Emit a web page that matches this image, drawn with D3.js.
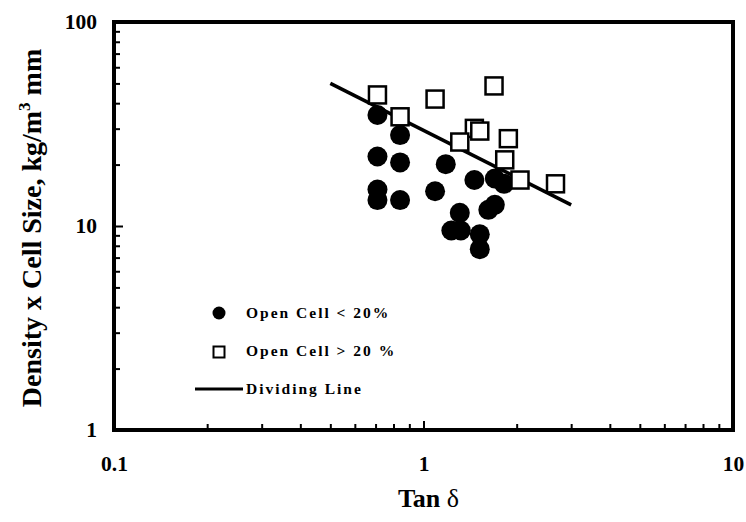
<!DOCTYPE html>
<html>
<head>
<meta charset="utf-8">
<script src="https://cdn.jsdelivr.net/npm/d3@7"></script>
<style>
  body { margin: 0; background: #fff; }
  svg { display: block; font-family: "Liberation Serif", "Times New Roman", serif; }
</style>
</head>
<body>
<svg id="graph" width="746" height="522"></svg>
<script>
// Open cell < 20% (filled circles)
const closedX = [0.71, 0.84, 0.71, 0.84, 1.18, 0.71, 0.71, 0.84, 1.09, 1.46, 1.70, 1.82, 1.31, 1.23, 1.32, 1.52, 1.52, 1.62, 1.70];
const closedY = [35.0, 27.9, 21.9, 20.5, 20.1, 15.1, 13.4, 13.4, 14.8, 16.8, 17.1, 16.1, 11.6, 9.5, 9.5, 9.1, 7.7, 12.0, 12.7];
// Open cell > 20% (open squares)
const openX = [0.71, 0.84, 1.09, 1.69, 1.46, 1.52, 1.31, 1.88, 1.83, 2.05, 2.67];
const openY = [43.9, 34.3, 41.9, 48.6, 30.1, 29.2, 25.8, 26.8, 21.1, 16.8, 16.1];
// dividing line end points
const lineX = [0.5, 3.0];
const lineY = [50, 12.7];

const xTicks = [0.1, 1, 10];
const yTicks = [1, 10, 100];
const legendLabels = ["Open Cell < 20%", "Open Cell > 20 %", "Dividing Line"];

const w = 746, h = 522;
const padL = 114, padR = 733, padT = 22, padB = 430;

const svg = d3.select('#graph');

const xScale = d3.scaleLog().domain([0.1, 10]).range([padL, padR]);
const yScale = d3.scaleLog().domain([1, 100]).range([padB, padT]);

function minors(lo, hi) {
  const out = [];
  for (let d = lo; d < hi; d *= 10)
    for (let k = 2; k <= 9; k++) out.push(k * d);
  return out;
}

// minor ticks, inward
svg.append('g')
  .attr('transform', `translate(0,${padB})`)
  .call(d3.axisBottom(xScale).tickValues(minors(0.1, 10)).tickSize(-6).tickFormat(''))
  .call(g => g.select('.domain').remove())
  .call(g => g.selectAll('line').attr('stroke-width', 2));
svg.append('g')
  .attr('transform', `translate(${padL},0)`)
  .call(d3.axisLeft(yScale).tickValues(minors(1, 100)).tickSize(-6).tickFormat(''))
  .call(g => g.select('.domain').remove())
  .call(g => g.selectAll('line').attr('stroke-width', 2));

// major ticks + labels
svg.append('g')
  .attr('transform', `translate(0,${padB})`)
  .call(d3.axisBottom(xScale).tickValues(xTicks).tickSize(-9).tickPadding(26).tickFormat(d => String(d)))
  .call(g => g.select('.domain').remove())
  .call(g => g.selectAll('line').attr('stroke-width', 2))
  .call(g => g.selectAll('text').attr('font-size', 21.5).attr('font-weight', 'bold')
    .attr('font-family', '"Liberation Serif", serif').attr('fill', '#000'));
svg.append('g')
  .attr('transform', `translate(${padL},0)`)
  .call(d3.axisLeft(yScale).tickValues(yTicks).tickSize(-9).tickPadding(17).tickFormat(d => String(d)))
  .call(g => g.select('.domain').remove())
  .call(g => g.selectAll('line').attr('stroke-width', 2))
  .call(g => g.selectAll('text').attr('font-size', 21.5).attr('font-weight', 'bold')
    .attr('font-family', '"Liberation Serif", serif').attr('fill', '#000'));

// frame
svg.append('rect')
  .attr('x', padL).attr('y', padT)
  .attr('width', padR - padL).attr('height', padB - padT)
  .attr('fill', 'none').attr('stroke', '#000').attr('stroke-width', 4);

// closed-cell circles
svg.append('g').selectAll('circle')
  .data(closedX.map((x, i) => [x, closedY[i]]))
  .join('circle')
  .attr('cx', d => xScale(d[0]))
  .attr('cy', d => yScale(d[1]))
  .attr('r', 10)
  .attr('fill', '#000');

// dividing line
svg.append('path')
  .datum(lineX.map((x, i) => [x, lineY[i]]))
  .attr('d', d3.line().x(d => xScale(d[0])).y(d => yScale(d[1])))
  .attr('stroke', '#000').attr('stroke-width', 3.5).attr('fill', 'none');

// open-cell squares
const sq = 17;
svg.append('g').selectAll('rect')
  .data(openX.map((x, i) => [x, openY[i]]))
  .join('rect')
  .attr('x', d => xScale(d[0]) - sq / 2)
  .attr('y', d => yScale(d[1]) - sq / 2)
  .attr('width', sq).attr('height', sq)
  .attr('fill', '#fff').attr('stroke', '#000').attr('stroke-width', 2.5);

// legend
const lg = svg.append('g');
const lgText = (y, t) => lg.append('text')
  .attr('x', 246).attr('y', y).text(t)
  .attr('font-size', 15.5).attr('font-weight', 'bold').attr('letter-spacing', 2);
lg.append('circle').attr('cx', 219).attr('cy', 313).attr('r', 6.5).attr('fill', '#000');
lgText(318, legendLabels[0]);
lg.append('rect').attr('x', 213.5).attr('y', 346.5).attr('width', 11).attr('height', 11)
  .attr('fill', '#fff').attr('stroke', '#000').attr('stroke-width', 2);
lgText(356, legendLabels[1]);
lg.append('line').attr('x1', 195).attr('x2', 243).attr('y1', 389).attr('y2', 389)
  .attr('stroke', '#000').attr('stroke-width', 3);
lgText(394, legendLabels[2]);

// axis titles
const xt = svg.append('text')
  .attr('x', (padL + padR) / 2 + 5).attr('y', 507)
  .attr('text-anchor', 'middle').attr('font-size', 26).attr('font-weight', 'bold');
xt.append('tspan').text('Tan ');
xt.append('tspan').attr('font-weight', 'normal').text('δ');

const yt = svg.append('text')
  .attr('transform', 'translate(41,228) rotate(-90)')
  .attr('text-anchor', 'middle').attr('font-size', 28).attr('font-weight', 'bold');
yt.append('tspan').text('Density x Cell Size, kg/m');
yt.append('tspan').attr('font-size', 17).attr('dy', -11).text('3');
yt.append('tspan').attr('dy', 11).text(' mm');
</script>
</body>
</html>
